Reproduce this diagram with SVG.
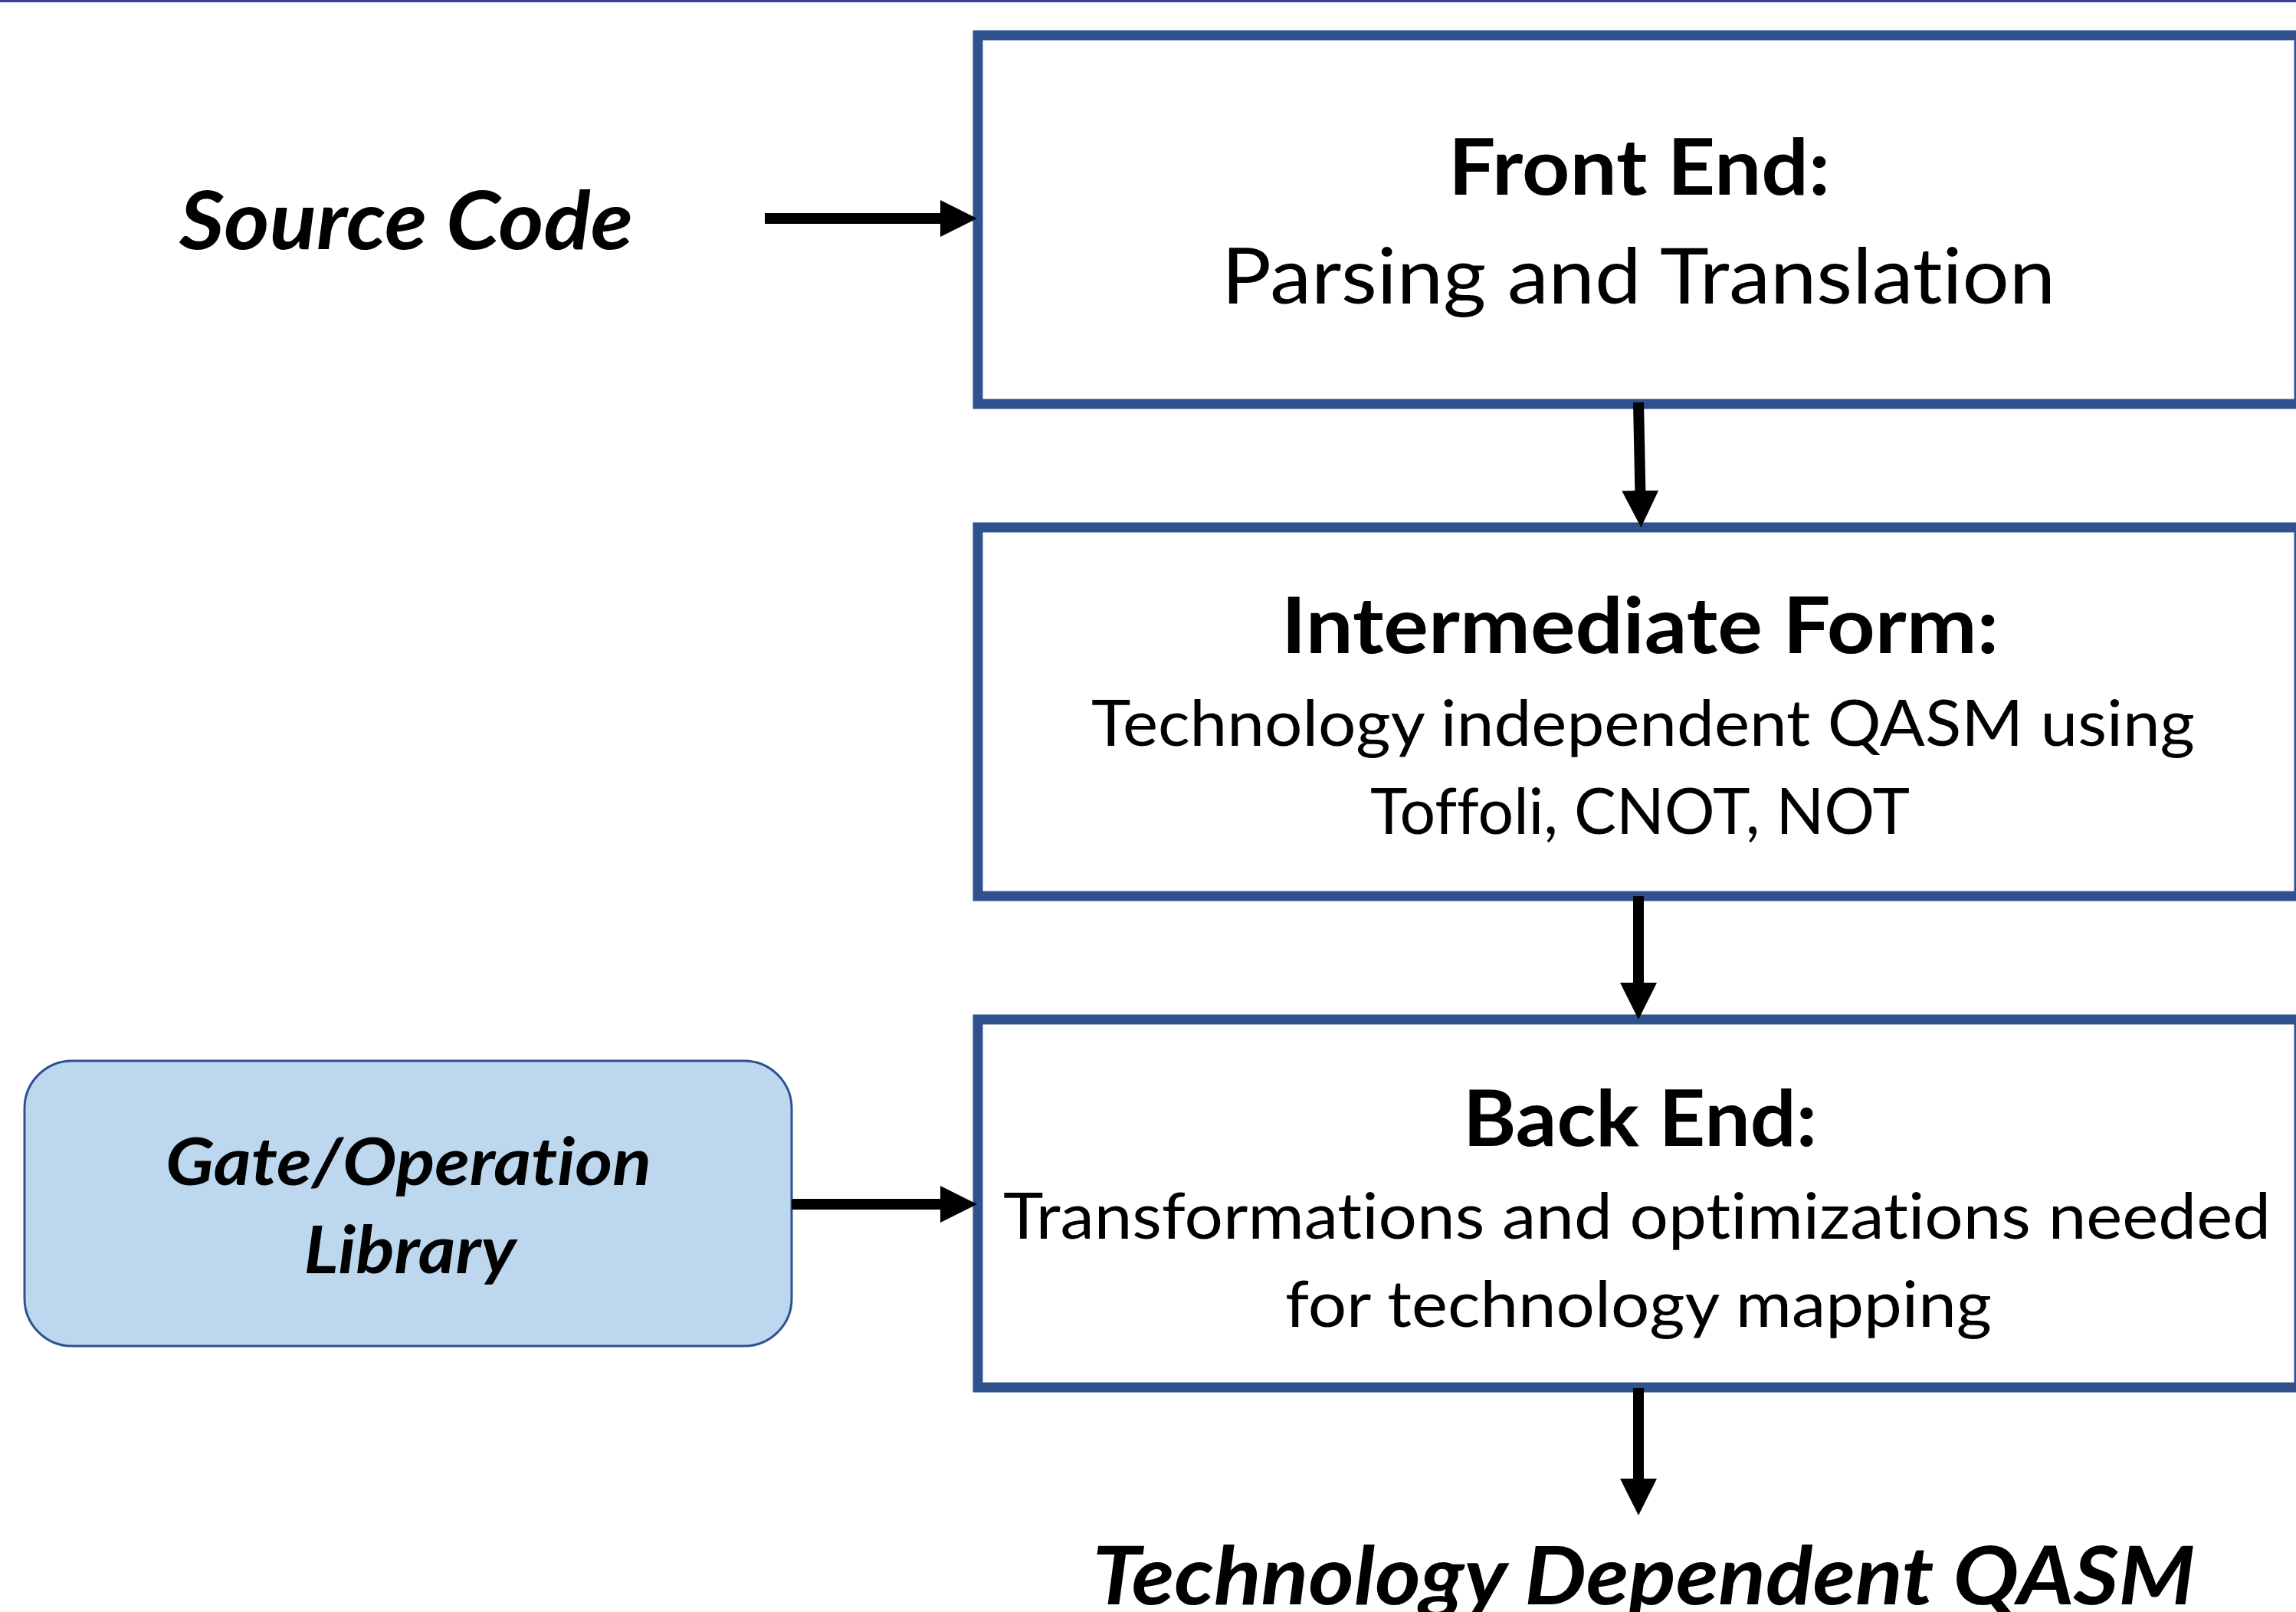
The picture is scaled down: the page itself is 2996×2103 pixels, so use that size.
<svg xmlns="http://www.w3.org/2000/svg" width="2996" height="2103" viewBox="0 0 2996 2103">
<defs>
<style>
.box{fill:#FFFFFF;stroke:#2F528F;stroke-width:13}
.lib{fill:#BDD7EE;stroke:#2F528F;stroke-width:3}
.conn{stroke:#000000;stroke-width:14;fill:none}
text{font-family:Lato,"Open Sans","Liberation Sans",sans-serif;fill:#000000;text-anchor:middle;font-variant-ligatures:none;font-feature-settings:"liga" 0,"clig" 0}
.hd{font-weight:bold;font-size:102px}
.sub{font-size:83px}
.bi{font-weight:bold;font-style:italic}
</style>
<marker id="ah" viewBox="0 0 48 48" markerWidth="48" markerHeight="48" refX="8" refY="24" orient="auto" markerUnits="userSpaceOnUse">
<path d="M0,0 L48,24 L0,48 Z" fill="#000000"/>
</marker>
</defs>
<rect x="0" y="0" width="2996" height="3" fill="#3B3B9B"/>
<g id="source-code">
<text class="bi" x="530" y="325" font-size="106" textLength="592" lengthAdjust="spacingAndGlyphs">Source Code</text>
</g>
<g id="front-end">
<rect class="box" x="1276" y="46" width="1724" height="481"/>
<text class="hd" x="2139" y="254" textLength="498" lengthAdjust="spacingAndGlyphs">Front End:</text>
<text x="2138" y="396" font-size="100" textLength="1088" lengthAdjust="spacingAndGlyphs">Parsing and Translation</text>
</g>
<g id="intermediate-form">
<rect class="box" x="1276" y="688" width="1724" height="481"/>
<text class="hd" x="2140" y="852" textLength="936" lengthAdjust="spacingAndGlyphs">Intermediate Form:</text>
<text class="sub" x="2144" y="973" textLength="1440" lengthAdjust="spacingAndGlyphs">Technology independent QASM using</text>
<text class="sub" x="2140" y="1088" textLength="704" lengthAdjust="spacingAndGlyphs">Toffoli, CNOT, NOT</text>
</g>
<g id="back-end">
<rect class="box" x="1276" y="1330" width="1724" height="480"/>
<text class="hd" x="2140" y="1495" textLength="462" lengthAdjust="spacingAndGlyphs">Back End:</text>
<text class="sub" x="2136" y="1616" textLength="1654" lengthAdjust="spacingAndGlyphs">Transformations and optimizations needed</text>
<text class="sub" x="2138" y="1731" textLength="922" lengthAdjust="spacingAndGlyphs">for technology mapping</text>
</g>
<g id="gate-library">
<rect class="lib" x="32" y="1384" width="1001" height="372" rx="62" ry="62"/>
<text class="bi" x="533" y="1546" font-size="86" textLength="634" lengthAdjust="spacingAndGlyphs">Gate/Operation</text>
<text class="bi" x="535" y="1661" font-size="86" textLength="277" lengthAdjust="spacingAndGlyphs">Library</text>
</g>
<g id="tech-dependent-qasm">
<text class="bi" x="2145" y="2093" font-size="105" textLength="1439" lengthAdjust="spacingAndGlyphs">Technology Dependent QASM</text>
</g>
<g id="connectors">
<line class="conn" x1="998" y1="285" x2="1235" y2="285" marker-end="url(#ah)"/>
<line class="conn" x1="2138" y1="525" x2="2140.5" y2="648" marker-end="url(#ah)"/>
<line class="conn" x1="2138" y1="1169" x2="2138" y2="1290" marker-end="url(#ah)"/>
<line class="conn" x1="2138" y1="1811" x2="2138" y2="1937" marker-end="url(#ah)"/>
<line class="conn" x1="1033" y1="1571" x2="1235" y2="1571" marker-end="url(#ah)"/>
</g>
</svg>
